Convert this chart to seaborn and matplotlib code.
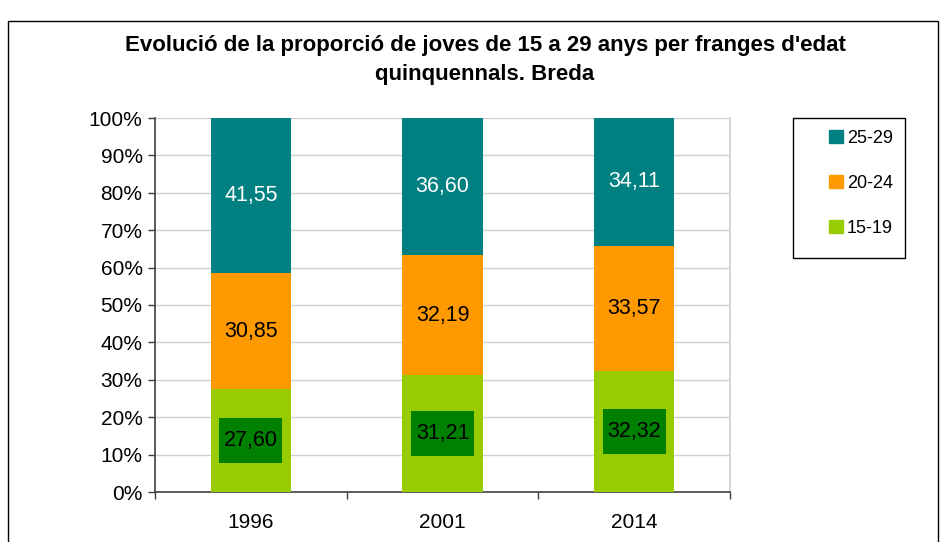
import pandas as pd
import matplotlib
matplotlib.use('Agg')
import matplotlib.pyplot as plt
import matplotlib.patches as mpatches
from matplotlib.ticker import FixedLocator
import seaborn as sns

sns.set_theme(style='white')
plt.rcParams['font.family'] = ['Liberation Sans', 'DejaVu Sans']
plt.rcParams['text.color'] = 'black'
plt.rcParams['xtick.color'] = 'black'
plt.rcParams['ytick.color'] = 'black'

# Data
years = ['1996', '2001', '2014']
age_15_19 = [27.60, 31.21, 32.32]
age_20_24 = [30.85, 32.19, 33.57]
age_25_29 = [41.55, 36.60, 34.11]

df = pd.DataFrame({'year': years, '15-19': age_15_19, '20-24': age_20_24, '25-29': age_25_29})
df['c1'] = df['15-19']
df['c2'] = df['15-19'] + df['20-24']
df['c3'] = df['c2'] + df['25-29']

colors = {'15-19': '#99CC00', '20-24': '#FF9900', '25-29': '#008080'}

fig = plt.figure(figsize=(9.41, 5.42), dpi=100)
ax = fig.add_axes([155 / 941, 1 - 492 / 542, (730 - 155) / 941, (492 - 118) / 542])

# stacked bars: draw cumulative totals from the top segment down
for col, key in [('c3', '25-29'), ('c2', '20-24'), ('c1', '15-19')]:
    sns.barplot(data=df, x='year', y=col, color=colors[key], width=0.42,
                saturation=1, ax=ax, zorder=3, linewidth=0)

fmt = lambda v: f'{v:.2f}'.replace('.', ',')

# value labels
for i in range(len(years)):
    y1 = age_15_19[i] / 2
    ax.add_patch(mpatches.Rectangle((i - 0.165, y1 - 6), 0.33, 12, fc='#008000', ec='none', zorder=4))
    ax.text(i, y1, fmt(age_15_19[i]), ha='center', va='center',
            fontsize=15.5, color='black', zorder=5)
    y2 = age_15_19[i] + age_20_24[i] / 2
    ax.text(i, y2, fmt(age_20_24[i]), ha='center', va='center',
            fontsize=15.5, color='black', zorder=5)
    y3 = age_15_19[i] + age_20_24[i] + age_25_29[i] / 2
    ax.text(i, y3, fmt(age_25_29[i]), ha='center', va='center',
            fontsize=15.5, color='white', zorder=5)

ax.set_xlim(-0.5, 2.5)
ax.set_ylim(0, 100)
ax.set_yticks(range(0, 101, 10))
ax.set_yticklabels([f'{v}%' for v in range(0, 101, 10)], fontsize=15)
ax.set_xticks(range(len(years)))
ax.set_xticklabels(years, fontsize=15)
ax.xaxis.set_minor_locator(FixedLocator([-0.5, 0.5, 1.5, 2.5]))
ax.tick_params(axis='x', which='major', length=0, pad=15)
ax.tick_params(axis='x', which='minor', length=5, width=1, color='#404040', direction='out', bottom=True)
ax.tick_params(axis='y', length=5, width=1, color='#404040', direction='out', left=True, pad=4)
ax.set_xlabel('')
ax.set_ylabel('')
ax.yaxis.grid(True, color='#d0d0d0', linewidth=1, zorder=0)
ax.set_axisbelow(True)

for side in ['left', 'bottom']:
    ax.spines[side].set_color('#404040')
    ax.spines[side].set_linewidth(1.2)
ax.spines['top'].set_visible(False)
ax.spines['right'].set_color('#d0d0d0')

fig.text(485 / 941, 1 - 60 / 542,
         "Evolució de la proporció de joves de 15 a 29 anys per franges d'edat\nquinquennals. Breda",
         ha='center', va='center', fontsize=16, fontweight='bold', linespacing=1.47)

handles = [mpatches.Patch(color=colors[k], label=k) for k in ['25-29', '20-24', '15-19']]
leg = fig.legend(handles=handles, loc='center', bbox_to_anchor=(861 / 941, 1 - 183.5 / 542),
                 fontsize=13, frameon=False,
                 handlelength=0.75, handleheight=0.75, handletextpad=0.25,
                 labelspacing=1.55, borderpad=0, borderaxespad=0)

# legend frame
fig.add_artist(mpatches.Rectangle((793 / 941, 1 - 258 / 542), (905 - 793) / 941, (258 - 118) / 542,
                                  transform=fig.transFigure, fill=False, ec='black', lw=1))

# outer chart border
fig.add_artist(mpatches.Rectangle((8 / 941, -0.1), (938 - 8) / 941, 1.1 - 21 / 542,
                                  transform=fig.transFigure, fill=False, ec='black', lw=1))

fig.savefig('out.png', dpi=100, facecolor='white')
